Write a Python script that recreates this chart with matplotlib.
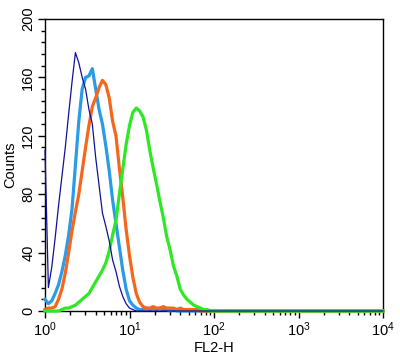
import numpy as np
import matplotlib
matplotlib.use("Agg")
import matplotlib.pyplot as plt
from matplotlib.ticker import MultipleLocator, LogLocator, LogFormatterMathtext, NullFormatter

plt.rcParams['font.family'] = ['Liberation Sans', 'DejaVu Sans']
plt.rcParams['mathtext.fontset'] = 'custom'
plt.rcParams['mathtext.rm'] = 'Liberation Sans'
plt.rcParams['mathtext.default'] = 'regular'

# channel positions (log10 of FL2-H)
log_fl2 = [0.00, 0.04, 0.08, 0.12, 0.16, 0.20, 0.24, 0.28, 0.32, 0.36,
           0.40, 0.44, 0.48, 0.52, 0.56, 0.60, 0.64, 0.68, 0.72, 0.76,
           0.80, 0.84, 0.88, 0.92, 0.96, 1.00, 1.04, 1.08, 1.12, 1.16,
           1.20, 1.24, 1.28, 1.32, 1.36, 1.40, 1.44, 1.48, 1.52, 1.56,
           1.60, 1.64, 1.68, 1.72, 1.76, 1.80, 1.84, 1.88, 1.92, 1.96,
           2.00, 4.00]

isotype = [110, 16, 30, 50, 72, 92, 112, 135, 157, 177,
           170, 160, 152, 138, 128, 105, 86, 67, 58, 48,
           35, 27, 17, 10, 5, 2, 1, 0, 0, 0,
           0, 0, 0, 0, 0, 0, 0, 0, 0, 0,
           0, 0, 0, 0, 0, 0, 0, 0, 0, 0,
           0, 0]

sample_a = [8, 5, 7, 12, 18, 27, 38, 52, 70, 100,
            130, 152, 160, 161, 166, 152, 138, 128, 113, 96,
            76, 60, 44, 28, 15, 7, 4, 2, 1, 1,
            2, 1, 2, 1, 2, 1, 1, 0, 1, 0,
            0, 0, 0, 0, 0, 0, 0, 0, 0, 0,
            0, 0]

sample_b = [1, 2, 2, 3, 8, 15, 26, 40, 55, 68,
            80, 96, 112, 127, 140, 146, 153, 158, 155, 146,
            130, 120, 98, 78, 56, 38, 23, 12, 6, 3,
            2, 2, 3, 2, 2, 3, 2, 2, 2, 1,
            2, 1, 1, 1, 1, 1, 0, 0, 0, 0,
            0, 0]

sample_c = [0, 0, 0, 0, 0, 1, 2, 2, 3, 4,
            6, 8, 10, 12, 16, 20, 24, 28, 33, 41,
            52, 62, 80, 97, 114, 127, 136, 139, 137, 133,
            124, 110, 98, 87, 75, 64, 51, 42, 31, 24,
            15, 11, 8, 6, 4, 3, 2, 1, 1, 0,
            0, 0]

fl2 = 10 ** np.array(log_fl2)

fig = plt.figure(figsize=(4.0, 3.64), dpi=100)
ax = fig.add_axes([0.1125, 0.1456, 0.845, 0.8022])

ax.plot(fl2, sample_a, color='#2a9be6', lw=2.3, clip_on=False, zorder=3)
ax.plot(fl2, sample_b, color='#f5671c', lw=2.3, clip_on=False, zorder=4)
ax.plot(fl2, sample_c, color='#2ee824', lw=2.3, clip_on=False, zorder=5)
ax.plot(fl2, isotype, color='#10109a', lw=0.9, clip_on=False, zorder=6)

ax.set_xscale('log')
ax.set_xlim(1, 1e4)
ax.set_ylim(0, 200)
ax.xaxis.set_major_locator(LogLocator(base=10))
ax.xaxis.set_major_formatter(LogFormatterMathtext())
ax.xaxis.set_minor_locator(LogLocator(base=10, subs=np.arange(2, 10)))
ax.xaxis.set_minor_formatter(NullFormatter())
ax.yaxis.set_major_locator(MultipleLocator(40))
ax.yaxis.set_minor_locator(MultipleLocator(8))

ax.tick_params(which='major', direction='out', length=5, width=1, labelsize=10.5, pad=2)
ax.tick_params(which='minor', direction='out', length=3, width=1)
for lab in ax.get_yticklabels():
    lab.set_rotation(90)
    lab.set_va('center')

for s in ax.spines.values():
    s.set_linewidth(1)

ax.set_xlabel('FL2-H', fontsize=10.5, labelpad=1)
ax.set_ylabel('Counts', fontsize=10.5, labelpad=3)

fig.savefig('out.png', dpi=100)
